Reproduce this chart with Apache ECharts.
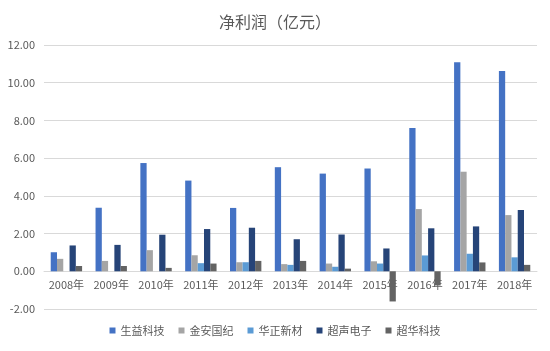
<!DOCTYPE html>
<html>
<head>
<meta charset="utf-8">
<script src="https://cdn.jsdelivr.net/npm/echarts@6/dist/echarts.min.js"></script>
<style>
  html, body { margin: 0; padding: 0; background: #fff; }
  #chart { width: 550px; height: 351px; }
</style>
</head>
<body>
<div id="chart"></div>
<script>
"use strict";
// 数据
var years = ['2008年', '2009年', '2010年', '2011年', '2012年', '2013年', '2014年', '2015年', '2016年', '2017年', '2018年'];
var shengyi = [1.01, 3.37, 5.74, 4.81, 3.36, 5.52, 5.18, 5.45, 7.60, 11.08, 10.62];
var jinan = [0.66, 0.55, 1.12, 0.85, 0.48, 0.38, 0.41, 0.53, 3.30, 5.28, 2.98];
var huazheng = [0, 0, 0, 0.43, 0.48, 0.34, 0.24, 0.41, 0.84, 0.93, 0.74];
var chaosheng = [1.37, 1.40, 1.94, 2.24, 2.31, 1.70, 1.95, 1.21, 2.28, 2.38, 3.25];
var chaohua = [0.28, 0.28, 0.18, 0.41, 0.55, 0.55, 0.14, -1.60, -0.75, 0.47, 0.34];
var yTicks = { min: -2, max: 12, interval: 2 };

var names = ['生益科技', '金安国纪', '华正新材', '超声电子', '超华科技'];
var colors = ['#4472C4', '#A5A5A5', '#5B9BD5', '#264478', '#636363'];
var values = [shengyi, jinan, huazheng, chaosheng, chaohua];

var font = '"Noto Sans CJK SC", "Liberation Sans", sans-serif';

var gridTop = 45, gridBottom = 42;
var plotH = 351 - gridTop - gridBottom;
// 把类目轴挪到0刻度线上
var zeroOffset = -(0 - yTicks.min) / (yTicks.max - yTicks.min) * plotH;

var series = names.map(function (n, i) {
    return {
        name: n,
        type: 'bar',
        data: values[i],
        barGap: 0,
        barCategoryGap: '30%',
        itemStyle: { color: colors[i] }
    };
});

var chart = echarts.init(document.getElementById('chart'));
chart.setOption({
    animation: false,
    backgroundColor: '#fff',
    color: colors,
    title: {
        text: '净利润（亿元）',
        left: 'center',
        top: 9,
        textStyle: { fontFamily: font, fontSize: 16, fontWeight: 'normal', color: '#595959' }
    },
    legend: {
        data: names,
        bottom: 10,
        left: 'center',
        itemWidth: 6,
        itemHeight: 6,
        itemGap: 14,
        icon: 'rect',
        textStyle: { fontFamily: font, fontSize: 11, color: '#595959' }
    },
    grid: { left: 44, right: 13, top: gridTop, bottom: gridBottom },
    xAxis: {
        type: 'category',
        data: years,
        offset: zeroOffset,
        axisTick: { show: false },
        axisLine: { onZero: false, lineStyle: { color: '#d9d9d9' } },
        axisLabel: { interval: 0, fontFamily: font, fontSize: 11, color: '#595959', margin: 8 }
    },
    yAxis: {
        type: 'value',
        min: yTicks.min,
        max: yTicks.max,
        interval: yTicks.interval,
        axisLine: { show: false },
        axisTick: { show: false },
        splitLine: { lineStyle: { color: '#d9d9d9' } },
        axisLabel: {
            fontFamily: font, fontSize: 11, color: '#595959', margin: 9,
            formatter: function (v) { return v.toFixed(2); }
        }
    },
    series: series
});
</script>
</body>
</html>
